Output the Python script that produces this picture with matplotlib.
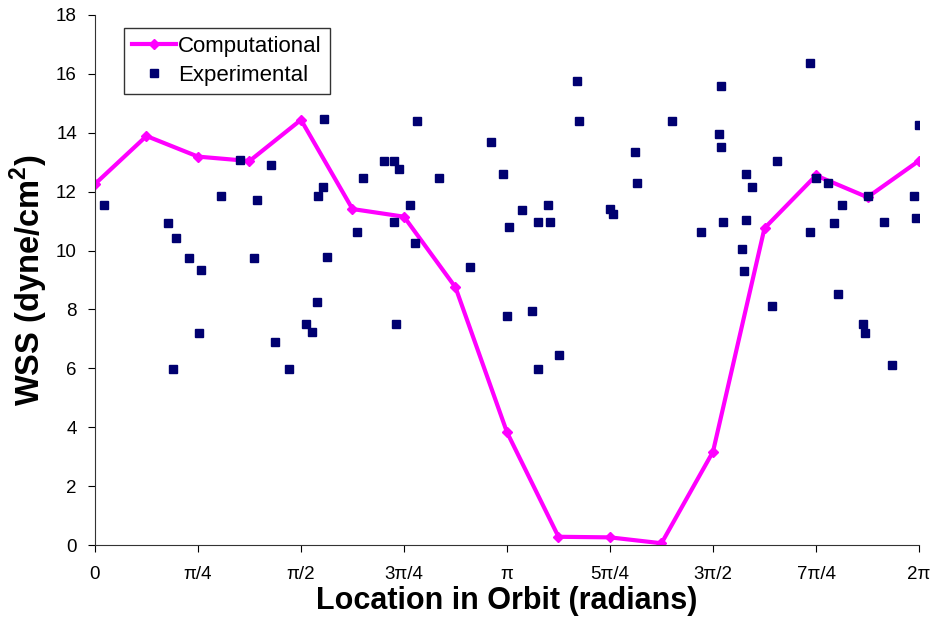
import numpy as np
import matplotlib
matplotlib.use('Agg')
import matplotlib.pyplot as plt

plt.rcParams['font.family'] = ['Liberation Sans', 'DejaVu Sans']
plt.rcParams['mathtext.fontset'] = 'custom'
plt.rcParams['mathtext.rm'] = 'Liberation Sans'
plt.rcParams['mathtext.bf'] = 'Liberation Sans:bold'

# Computational WSS, sampled every pi/8 round the orbit
comp_x = np.arange(17) * np.pi / 8
comp_wss = [12.26, 13.89, 13.19, 13.04, 14.44, 11.41, 11.15, 8.75, 3.83,
            0.28, 0.26, 0.06, 3.17, 10.76, 12.55, 11.81, 13.05]

# Experimental WSS (location in radians, value)
exp_x = [0.069, 0.554, 0.618, 0.714, 0.808, 0.963, 1.106, 1.233, 1.212, 1.342,
         1.700, 1.736, 1.767, 1.749, 1.690, 2.046, 2.000, 0.592, 0.795, 1.375,
         1.482, 1.609, 1.657, 2.453, 2.204, 2.282, 2.316, 2.625, 3.020, 3.113,
         2.404, 2.282, 2.437, 2.862, 3.253, 3.457, 3.378, 3.472, 3.159, 3.678,
         3.691, 3.927, 3.947, 4.115, 4.131, 4.400, 2.297, 3.142, 3.332, 3.378,
         3.536, 5.449, 4.773, 4.760, 4.773, 5.198, 6.281, 4.964, 5.010, 5.498,
         5.589, 5.892, 6.247, 5.698, 4.791, 4.964, 4.618, 5.449, 5.635, 6.014,
         6.263, 4.931, 4.946, 5.665, 5.164, 5.858, 5.874, 6.077]
exp_wss = [11.55, 10.95, 10.43, 9.75, 9.35, 11.85, 13.08, 11.70, 9.75, 12.91,
           11.85, 12.15, 9.78, 14.47, 8.25, 12.46, 10.64, 5.98, 7.19, 6.89,
           5.98, 7.50, 7.25, 14.40, 13.05, 13.05, 12.76, 12.46, 13.67, 12.60,
           11.55, 10.96, 10.26, 9.44, 11.39, 11.55, 10.96, 10.96, 10.80, 15.76,
           14.40, 11.40, 11.24, 13.35, 12.30, 14.40, 7.50, 7.79, 7.94, 5.98,
           6.44, 16.36, 15.60, 13.95, 13.50, 13.04, 14.26, 12.60, 12.15, 12.46,
           12.30, 11.85, 11.85, 11.56, 10.96, 11.04, 10.64, 10.64, 10.93, 10.96,
           11.10, 10.05, 9.30, 8.54, 8.12, 7.50, 7.19, 6.12]

tick_pos = np.arange(9) * np.pi / 4
tick_labels = ['0', 'π/4', 'π/2', '3π/4', 'π', '5π/4', '3π/2', '7π/4', '2π']

fig = plt.figure(figsize=(9.33, 6.19), dpi=100)
ax = fig.add_axes([0.1018, 0.1195, 0.8832, 0.8563])

ax.plot(comp_x, comp_wss, color='#FF00FF', lw=3, marker='D', ms=5,
        label='Computational', zorder=2)
ax.plot(exp_x, exp_wss, ls='none', marker='s', ms=5.5, color='#000070',
        label='Experimental', zorder=3)

ax.set_xlim(0, 2 * np.pi)
ax.set_ylim(0, 18)
ax.set_xticks(tick_pos)
ax.set_xticklabels(tick_labels)
ax.set_yticks(range(0, 19, 2))
ax.tick_params(axis='x', labelsize=13.5, pad=10, length=5, direction='out')
ax.tick_params(axis='y', labelsize=13.5, pad=8, length=5, direction='out')

for s in ['top', 'right']:
    ax.spines[s].set_visible(False)
for s in ['left', 'bottom']:
    ax.spines[s].set_color('#333333')

ax.set_xlabel('Location in Orbit (radians)', fontsize=22, fontweight='bold', labelpad=2)
ax.set_ylabel(r'WSS (dyne/cm$^\mathbf{2}$)', fontsize=23.5, fontweight='bold', labelpad=4)

leg = ax.legend(loc='upper left', bbox_to_anchor=(0.035, 0.975), fontsize=16,
                frameon=True, fancybox=False, edgecolor='black', handlelength=2.0,
                handletextpad=0.1, borderpad=0.35, labelspacing=0.35,
                borderaxespad=0)
leg.get_frame().set_linewidth(1.0)

fig.savefig('out.png', dpi=100)
